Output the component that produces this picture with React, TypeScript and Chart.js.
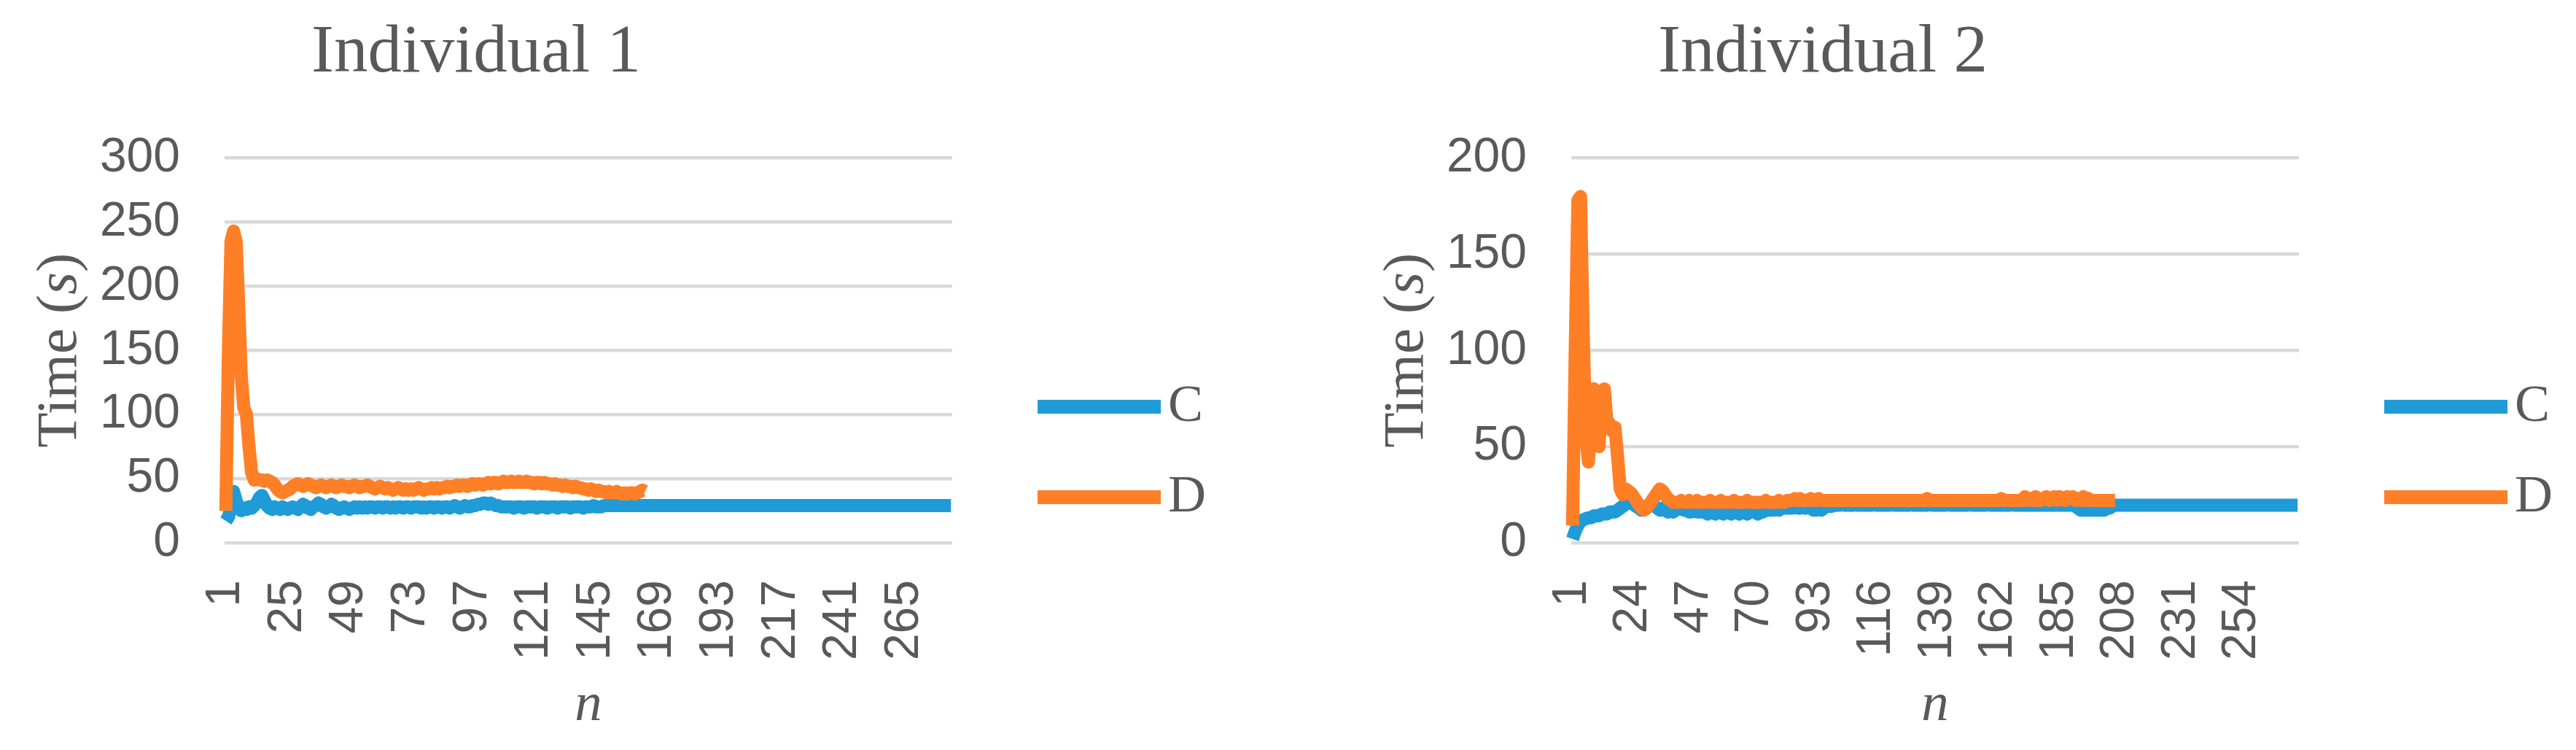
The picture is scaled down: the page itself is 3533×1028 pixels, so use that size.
import React, { useEffect, useRef } from 'react';
import { Chart, registerables } from 'chart.js';

Chart.register(...registerables);

// ---------- data ----------
const SERIES_NAMES = ['C', 'D'];

const C1 = [
  17, 20, 28, 40, 33, 27, 25, 27, 26, 28,
  27, 29, 31, 35, 37, 33, 29, 27, 26, 28,
  27, 26, 28, 27, 26, 27, 28, 27, 26, 28,
  30, 29, 27, 26, 28, 29, 31, 30, 28, 27,
  28, 30, 29, 27, 26, 27, 28, 27, 26, 27,
  28, 27, 28, 27, 28, 27, 28, 28, 27, 28,
  28, 27, 28, 28, 27, 28, 27, 28, 28, 27,
  28, 28, 27, 28, 28, 28, 27, 28, 27, 28,
  28, 27, 28, 28, 27, 28, 28, 27, 28, 29,
  28, 27, 28, 29, 28, 28, 29, 29, 30, 30,
  31, 31, 30, 31, 30, 29, 29, 28, 28, 28,
  28, 28, 27, 28, 28, 28, 27, 28, 28, 28,
  28, 27, 28, 28, 28, 27, 28, 28, 28, 27,
  28, 28, 28, 28, 27, 28, 28, 28, 28, 27,
  28, 28, 28, 29, 28, 28, 28, 29, 29, 29,
  29, 29, 29, 29, 29, 29, 29, 29, 29, 29,
  29, 29, 29, 29, 29, 29, 29, 29, 29, 29,
  29, 29, 29, 29, 29, 29, 29, 29, 29, 29,
  29, 29, 29, 29, 29, 29, 29, 29, 29, 29,
  29, 29, 29, 29, 29, 29, 29, 29, 29, 29,
  29, 29, 29, 29, 29, 29, 29, 29, 29, 29,
  29, 29, 29, 29, 29, 29, 29, 29, 29, 29,
  29, 29, 29, 29, 29, 29, 29, 29, 29, 29,
  29, 29, 29, 29, 29, 29, 29, 29, 29, 29,
  29, 29, 29, 29, 29, 29, 29, 29, 29, 29,
  29, 29, 29, 29, 29, 29, 29, 29, 29, 29,
  29, 29, 29, 29, 29, 29, 29, 29, 29, 29,
  29, 29, 29, 29, 29, 29, 29, 29, 29, 29,
  29, 29, 29,
];

const D1 = [
  25, 150, 235, 243, 235, 185, 130, 105, 100, 75,
  55, 49, 50, 49, 49, 48, 49, 48, 47, 45,
  42, 40, 39, 40, 41, 42, 44, 45, 46, 45,
  44, 45, 46, 45, 44, 43, 44, 45, 44, 43,
  44, 45, 44, 43, 44, 45, 44, 44, 43, 44,
  45, 44, 43, 44, 44, 45, 44, 43, 42, 43,
  44, 43, 42, 43, 42, 41, 42, 43, 42, 41,
  42, 41, 42, 41, 42, 43, 42, 41, 42, 42,
  43, 42, 43, 42, 43, 43, 44, 43, 44, 44,
  45, 44, 45, 45, 44, 45, 46, 45, 46, 46,
  45, 46, 47, 46, 47, 47, 46, 47, 48, 47,
  47, 48, 47, 47, 48, 47, 47, 48, 47, 47,
  46, 47, 47, 46, 47, 46, 46, 45, 46, 45,
  45, 44, 45, 44, 44, 43, 44, 43, 43, 42,
  42, 41, 42, 41, 40, 41, 40, 40, 39, 40,
  39, 39, 40, 39, 38, 39, 38, 39, 39, 38,
  39, 40, 41, 40,
];

const C2 = [
  2, 6, 9, 11, 12, 12.5, 13, 13, 14, 14,
  14, 15, 15, 15, 16, 16, 16, 17, 18, 19,
  20, 21, 21, 20, 19, 18, 17, 18, 19, 20,
  20, 19, 18, 17, 18, 17, 16, 17, 16, 17,
  18, 18, 17, 17, 16, 16, 17, 16, 16, 16,
  16, 15, 16, 16, 15, 16, 16, 15, 16, 16,
  15, 16, 16, 15, 16, 16, 15, 16, 16, 16,
  15, 16, 16, 17, 17, 17, 17, 18, 17, 18,
  18, 18, 18, 18, 19, 18, 18, 19, 18, 19,
  18, 17, 17, 18, 17, 18, 19, 19, 19, 19.5,
  19.5, 19.5, 20, 19.5, 19.5, 19.5, 19.5, 20, 19.5, 19.5,
  19.5, 19.5, 19.5, 19.5, 20, 19.5, 19.5, 19.5, 19.5, 19.5,
  19.5, 20, 19.5, 19.5, 19.5, 19.5, 19.5, 19.5, 20, 19.5,
  19.5, 19.5, 19.5, 19.5, 19.5, 20, 19.5, 19.5, 19.5, 19.5,
  19.5, 19.5, 20, 19.5, 19.5, 19.5, 19.5, 19.5, 19.5, 19.5,
  20, 19.5, 19.5, 19.5, 19.5, 19.5, 19.5, 20, 19.5, 19.5,
  19.5, 19.5, 19.5, 19.5, 19.5, 19.5, 20, 19.5, 19.5, 19.5,
  19.5, 19.5, 19.5, 19.5, 19.5, 19.5, 19.5, 19.5, 19.5, 19.5,
  19.5, 19.5, 19.5, 19.5, 19.5, 19.5, 19.5, 19.5, 19.5, 19.5,
  19, 18, 17, 17, 17, 17, 17, 17, 17, 17,
  17, 17, 18, 18, 19, 19.5, 19.5, 19.5, 19.5, 19.5,
  19.5, 19.5, 19.5, 19.5, 19.5, 19.5, 19.5, 19.5, 19.5, 19.5,
  19.5, 19.5, 19.5, 19.5, 19.5, 19.5, 19.5, 19.5, 19.5, 19.5,
  19.5, 19.5, 19.5, 19.5, 19.5, 19.5, 19.5, 19.5, 19.5, 19.5,
  19.5, 19.5, 19.5, 19.5, 19.5, 19.5, 19.5, 19.5, 19.5, 19.5,
  19.5, 19.5, 19.5, 19.5, 19.5, 19.5, 19.5, 19.5, 19.5, 19.5,
  19.5, 19.5, 19.5, 19.5, 19.5, 19.5, 19.5, 19.5, 19.5, 19.5,
  19.5, 19.5, 19.5, 19.5, 19.5,
];

const D2 = [
  9, 100, 178, 180, 110, 55, 42, 75, 80, 60,
  50, 78, 80, 62, 62, 58, 60, 45, 28, 25,
  28, 27, 26, 24, 22, 20, 18, 17, 18, 20,
  22, 24, 26, 28, 27, 25, 23, 22, 21, 21,
  21, 22, 21, 21, 22, 21, 21, 22, 21, 21,
  21, 21, 22, 21, 21, 21, 22, 21, 21, 21,
  21, 22, 21, 21, 21, 21, 22, 21, 21, 21,
  21, 21, 21, 22, 21, 21, 21, 21, 22, 21,
  21, 22, 22, 22, 23, 22, 23, 22, 22, 22,
  23, 22, 22, 23, 22, 22, 22, 22, 22, 22,
  22, 22, 22, 22, 22, 22, 22, 22, 22, 22,
  22, 22, 22, 22, 22, 22, 22, 22, 22, 22,
  22, 22, 22, 22, 22, 22, 22, 22, 22, 22,
  22, 22, 22, 22, 23, 22, 22, 22, 22, 22,
  22, 22, 22, 22, 22, 22, 22, 22, 22, 22,
  22, 22, 22, 22, 22, 22, 22, 22, 22, 22,
  22, 22, 23, 22, 22, 22, 22, 22, 22, 22,
  22, 24, 22, 23, 22, 24, 22, 22, 23, 24,
  22, 23, 24, 22, 24, 23, 22, 24, 23, 24,
  22, 23, 22, 24, 22, 23, 22, 22, 22, 22,
  22, 22, 22, 22, 22, 22,
];

const TICKS1 = ['1', '25', '49', '73', '97', '121', '145', '169', '193', '217', '241', '265'];
const TICKS2 = ['1', '24', '47', '70', '93', '116', '139', '162', '185', '208', '231', '254'];

const Y_MAX1 = 300;
const Y_MAX2 = 200;
const Y_STEP = 50;

// ---------- styles ----------
const COLORS: Record<string, string> = { C: '#1F9BD7', D: '#FF7F27' };
const TEXT = '#595959';
const SERIF = '"Liberation Serif", "Times New Roman", serif';
const SANS = '"Liberation Sans", Arial, sans-serif';
const CW = 1654;
const CH = 1028;

const yTitlePlugin = {
  id: 'yTitleMixed',
  afterDraw(chart: any) {
    const { ctx, chartArea } = chart;
    const parts = [
      { t: 'Time (', f: `79px ${SERIF}` },
      { t: 's', f: `italic 79px ${SERIF}` },
      { t: ')', f: `79px ${SERIF}` },
    ];
    ctx.save();
    let total = 0;
    const widths = parts.map((p) => {
      ctx.font = p.f;
      const w = ctx.measureText(p.t).width;
      total += w;
      return w;
    });
    ctx.translate(chartArea.left - 225, (chartArea.top + chartArea.bottom) / 2);
    ctx.rotate(-Math.PI / 2);
    ctx.fillStyle = TEXT;
    ctx.textBaseline = 'middle';
    ctx.textAlign = 'left';
    let x = -total / 2;
    parts.forEach((p, i) => {
      ctx.font = p.f;
      ctx.fillText(p.t, x, 0);
      x += widths[i];
    });
    ctx.restore();
  },
};

const legendPlugin = {
  id: 'sideLegend',
  afterDraw(chart: any) {
    const { ctx, chartArea } = chart;
    const offsets = [341, 465];
    ctx.save();
    chart.data.datasets.forEach((ds: any, i: number) => {
      const y = chartArea.top + offsets[i];
      ctx.strokeStyle = ds.borderColor;
      ctx.lineWidth = 19;
      ctx.lineCap = 'butt';
      ctx.beginPath();
      ctx.moveTo(chartArea.right + 117, y);
      ctx.lineTo(chartArea.right + 286, y);
      ctx.stroke();
      ctx.fillStyle = TEXT;
      ctx.font = `72px ${SERIF}`;
      ctx.textAlign = 'left';
      ctx.textBaseline = 'middle';
      ctx.fillText(ds.label, chartArea.right + 296, y);
    });
    ctx.restore();
  },
};

function LineChart(props: { title: string; c: number[]; d: number[]; ticks: string[]; yMax: number }) {
  const ref = useRef<HTMLCanvasElement | null>(null);
  useEffect(() => {
    if (!ref.current) return;
    const n = Math.max(props.c.length, props.d.length);
    const labels = Array.from({ length: n }, (_, i) => String(i + 1));
    const chart = new Chart(ref.current, {
      type: 'line',
      data: {
        labels,
        datasets: [
          {
            label: SERIES_NAMES[0],
            data: props.c,
            borderColor: COLORS.C,
            backgroundColor: COLORS.C,
            borderWidth: 18,
            pointRadius: 0,
            tension: 0,
            borderJoinStyle: 'round',
            borderCapStyle: 'butt',
            order: 1,
          },
          {
            label: SERIES_NAMES[1],
            data: props.d,
            borderColor: COLORS.D,
            backgroundColor: COLORS.D,
            borderWidth: 18,
            pointRadius: 0,
            tension: 0,
            borderJoinStyle: 'round',
            borderCapStyle: 'butt',
            order: 0,
          },
        ],
      },
      options: {
        responsive: false,
        animation: false,
        devicePixelRatio: 1,
        layout: { padding: { left: 0, right: 348, top: 0, bottom: 0 } },
        plugins: {
          legend: { display: false },
          tooltip: { enabled: false },
          title: {
            display: true,
            text: props.title,
            color: TEXT,
            font: { family: SERIF, size: 93, weight: 'normal' },
            padding: { top: 18, bottom: 87 },
          },
        },
        scales: {
          x: {
            type: 'category',
            offset: true,
            grid: { display: false, drawTicks: false },
            border: { display: false },
            ticks: {
              autoSkip: false,
              minRotation: 90,
              maxRotation: 90,
              padding: 51,
              color: TEXT,
              font: { family: SANS, size: 66 },
              callback: (_v: any, i: number) => (props.ticks.includes(labels[i]) ? labels[i] : ''),
            },
            title: {
              display: true,
              text: 'n',
              color: TEXT,
              font: { family: SERIF, size: 75, style: 'italic' },
              padding: { top: 0, bottom: 16 },
            },
            afterFit: (s: any) => {
              s.height = 284;
            },
          },
          y: {
            min: 0,
            max: props.yMax,
            grid: { color: '#D9D9D9', lineWidth: 4.5, drawTicks: false },
            border: { display: false },
            ticks: {
              stepSize: Y_STEP,
              padding: 61,
              color: TEXT,
              font: { family: SANS, size: 66 },
            },
            afterFit: (s: any) => {
              s.width = 308;
            },
          },
        },
      },
      plugins: [yTitlePlugin, legendPlugin],
    } as any);
    return () => chart.destroy();
  }, []);
  return <canvas ref={ref} width={CW} height={CH} style={{ width: CW, height: CH, display: 'block' }} />;
}

export default function App() {
  return (
    <div style={{ position: 'absolute', left: 0, top: 0, width: 3533, height: 1028, background: '#fff', overflow: 'hidden' }}>
      <div style={{ position: 'absolute', left: 0, top: 0 }}>
        <LineChart title="Individual 1" c={C1} d={D1} ticks={TICKS1} yMax={Y_MAX1} />
      </div>
      <div style={{ position: 'absolute', left: 1847, top: 0 }}>
        <LineChart title="Individual 2" c={C2} d={D2} ticks={TICKS2} yMax={Y_MAX2} />
      </div>
    </div>
  );
}
